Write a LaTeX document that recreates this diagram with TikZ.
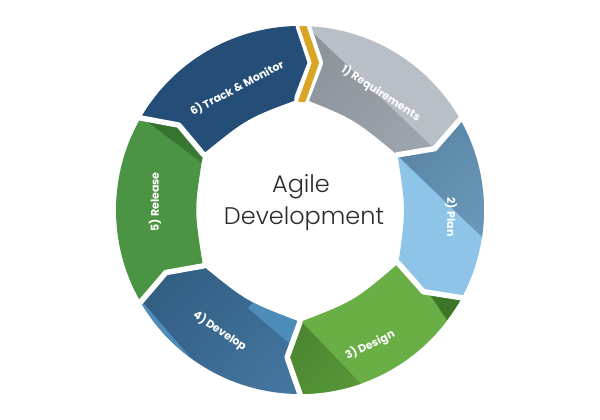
\documentclass[tikz,border=0pt]{standalone}
\usepackage{fontspec}
\setmainfont{Poppins}
\newfontfamily\ctrfont{Poppins Light}
\definecolor{cNavy}{HTML}{244E77}
\definecolor{cGray}{HTML}{B8BFC7}
\definecolor{cGrayD}{HTML}{838B93}
\definecolor{cGrayM}{HTML}{A6ADB5}
\definecolor{cSky}{HTML}{8DC4E8}
\definecolor{cSteelD}{HTML}{557F9E}
\definecolor{cSteelM}{HTML}{70A0C3}
\definecolor{cGreen}{HTML}{6AAF45}
\definecolor{cGreenD}{HTML}{437D2B}
\definecolor{cGreenM}{HTML}{5C9D3C}
\definecolor{cGreenX}{HTML}{3E7628}
\definecolor{cBlueD}{HTML}{2F5A7F}
\definecolor{cBlueM}{HTML}{43769F}
\definecolor{cBlueL}{HTML}{4E8CBA}
\definecolor{cLeaf}{HTML}{4B9443}
\definecolor{cLeafD}{HTML}{2D6628}
\definecolor{cLeafM}{HTML}{3D8035}
\definecolor{cGold}{HTML}{D9A524}
\definecolor{cText}{HTML}{2B2B2B}
% clip to one arrow segment: #1 tail angle, #2 head angle
\newcommand\segclip[2]{\clip (#1:184) arc[start angle=#1, end angle=#2, radius=184pt] -- ({#2-5}:148) -- (#2:112) .. controls ({(#1+#2)/2}:106) .. (#1:112) -- ({#1-5}:148) -- cycle;}
\newcommand\gapat[2]{\draw[white, line width=#2, line join=round] (#1:200) -- (#1:184) -- ({#1-5}:148) -- (#1:112) -- (#1:90);}
\begin{document}
\begin{tikzpicture}[x=1pt,y=1pt,
  lbl/.style={text=white, font=\fontsize{11}{13}\selectfont\bfseries, inner sep=0pt},
  ctext/.style={text=cText, font=\ctrfont\fontsize{24}{28}\selectfont, inner sep=0pt, anchor=base}]
\useasboundingbox (-300,-210) rectangle (300,210);
\fill[white] (-300,-210) rectangle (300,210);
% 1) Requirements
\begin{scope}
\segclip{89}{29.5}
\fill[cGray] (-200,-200) rectangle (200,200);
\shade[top color=cGrayD, bottom color=cGrayM, shading angle=46] (-14,203) -- (168,29) -- (63,-81) -- (-119,93) -- cycle;
\end{scope}
% 2) Plan
\begin{scope}
\segclip{29.5}{-28.5}
\fill[cSky] (-200,-200) rectangle (200,200);
\shade[top color=cSteelD, bottom color=cSteelM, shading angle=46] (70,81) -- (212,-56) -- (275,10) -- (133,147) -- cycle;
\end{scope}
% 3) Design
\begin{scope}
\segclip{-28.5}{-90}
\fill[cGreen] (-200,-200) rectangle (200,200);
\shade[top color=cGreenD, bottom color=cGreenM, shading angle=46] (-22,-87) -- (82,-196) -- (25,-250) -- (-79,-141) -- cycle;
\fill[cGreenX] (130,-85) -- (162,-89) -- (147,-110) -- cycle;
\end{scope}
% 4) Develop
\begin{scope}
\segclip{-90}{-150}
\shade[top color=cBlueD, bottom color=cBlueM, shading angle=46] (-200,-200) rectangle (20,-40);
\fill[cBlueL] (-52,-98) -- (5,-147) -- (60,-100) -- (0,-40) -- cycle;
\fill[cBlueL] (-180,-66) -- (-60,-205) -- (-105,-244) -- (-225,-105) -- cycle;
\end{scope}
% 5) Release
\begin{scope}
\segclip{210}{150}
\fill[cLeaf] (-200,-200) rectangle (200,200);
\shade[top color=cLeafD, bottom color=cLeafM, shading angle=46] (-188,115) -- (-82,35) -- (-47,81) -- (-153,161) -- cycle;
\end{scope}
% 6) Track & Monitor
\begin{scope}
\segclip{150}{89}
\fill[cNavy] (-200,-200) rectangle (200,200);
\end{scope}
% gaps
\gapat{29.5}{5.5pt}
\gapat{-28.5}{5.5pt}
\gapat{-90}{5.5pt}
\gapat{-150}{5.5pt}
\gapat{150}{5.5pt}
\gapat{89}{15pt}
\draw[cGold, line width=7pt, line join=miter] (89:184) -- (89:183) -- (84:148) -- (89:109) -- (89:108);
% labels
\node[lbl, rotate=-33] (l1) at (81,116.5) {1) Requirements};
\node[lbl, rotate=-90] (l2) at (151,-7) {2) Plan};
\node[lbl, rotate=26] (l3) at (70,-135) {3) Design};
\node[lbl, rotate=-34] (l4) at (-80,-121) {4) Develop};
\node[lbl, rotate=90] (l5) at (-145,8) {5) Release};
\node[lbl, rotate=28] (l6) at (-63,122) {6) Track \& Monitor};
% centre
\node[ctext] (agile) at (1,17) {Agile};
\node[ctext] (dev) at (4,-15) {Development};
\end{tikzpicture}
\end{document}
